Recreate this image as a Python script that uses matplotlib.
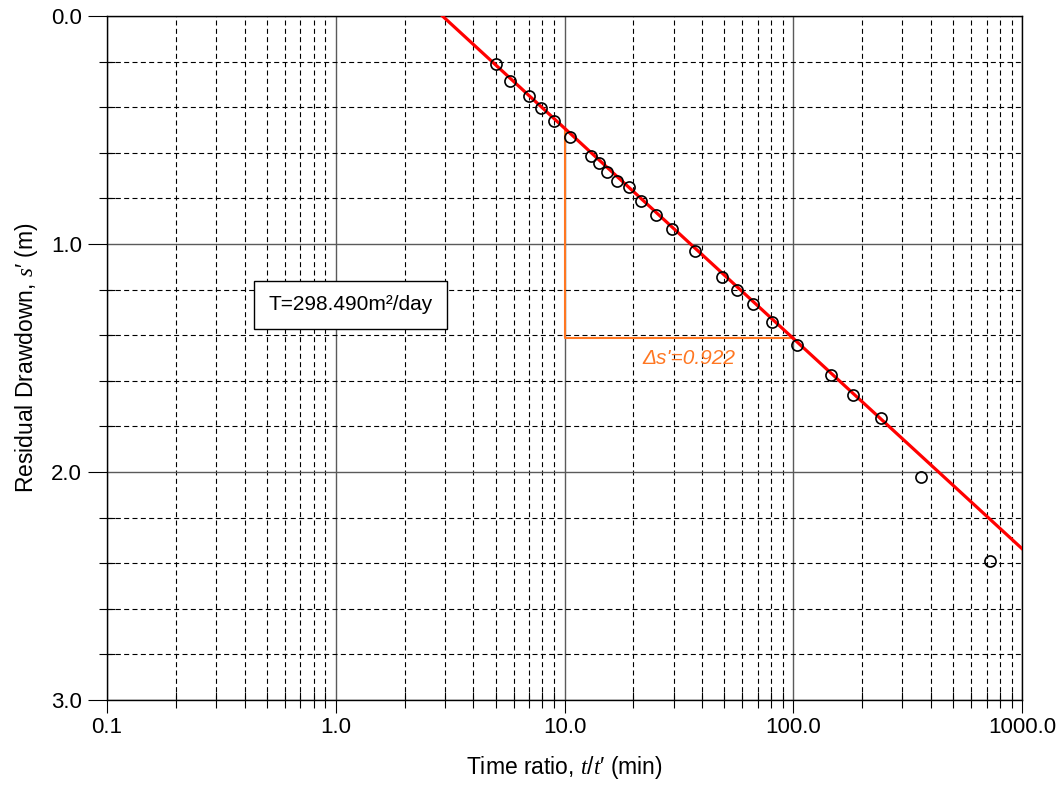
import numpy as np
import matplotlib
matplotlib.use("Agg")
import matplotlib.pyplot as plt
from matplotlib.ticker import FixedLocator, NullFormatter

plt.rcParams['font.family'] = ['Liberation Sans', 'DejaVu Sans']
plt.rcParams['mathtext.fontset'] = 'custom'
plt.rcParams['mathtext.it'] = 'Liberation Serif:italic'
plt.rcParams['mathtext.rm'] = 'Liberation Sans'

# observed recovery data
t_ratio = [5.0, 5.8, 7.0, 7.9, 9.0, 10.6, 13.0, 14.1, 15.3, 16.9, 19.1, 21.5,
           25.0, 29.6, 37.2, 49.0, 56.9, 66.5, 80.7, 103.5, 145.8, 182.0,
           242.7, 363.0, 722.0]
drawdown = [0.21, 0.284, 0.351, 0.402, 0.46, 0.532, 0.614, 0.643, 0.684, 0.725,
            0.751, 0.813, 0.871, 0.933, 1.031, 1.143, 1.203, 1.263, 1.342,
            1.444, 1.573, 1.664, 1.765, 2.023, 2.392]

# straight-line fit  s' = s_at_1 + slope * log10(t/t')
fit_slope = 0.922
fit_s_at_1 = -0.43
fit_x = [0.1, 1000.0]
cycle_x = [10.0, 100.0]

x_major = [0.1, 1.0, 10.0, 100.0, 1000.0]
x_major_labels = ['0.1', '1.0', '10.0', '100.0', '1000.0']
y_major = [0.0, 1.0, 2.0, 3.0]
y_major_labels = ['0.0', '1.0', '2.0', '3.0']
y_minor = [0.2, 0.4, 0.6, 0.8, 1.2, 1.4, 1.6, 1.8, 2.2, 2.4, 2.6, 2.8]

T_text = 'T=298.490m\u00b2/day'
ds_text = "\u0394s'=0.922"


def fit_line(x):
    return fit_s_at_1 + fit_slope * np.log10(np.asarray(x))


fig = plt.figure(figsize=(10.63, 7.89), dpi=100)
ax = fig.add_axes([0.1007, 0.1128, 0.8607, 0.8669])

ax.set_xscale('log')
ax.set_xlim(0.1, 1000)
ax.set_ylim(3.0, 0.0)

# grid
x_minor = [m * 10.0 ** e for e in range(-1, 3) for m in range(2, 10)]
ax.xaxis.set_major_locator(FixedLocator(x_major))
ax.xaxis.set_minor_locator(FixedLocator(x_minor))
ax.xaxis.set_minor_formatter(NullFormatter())
ax.set_xticklabels(x_major_labels)
ax.set_yticks(y_major)
ax.set_yticklabels(y_major_labels)
ax.set_yticks(y_minor, minor=True)

ax.grid(which='major', color='#5a5a5a', linestyle='-', linewidth=1.0)
ax.grid(which='minor', color='black', linestyle=(0, (4.5, 3)), linewidth=0.8)

ax.tick_params(axis='y', which='major', direction='out', length=14, width=0.8, labelsize=16, pad=4)
ax.tick_params(axis='x', which='major', direction='out', length=9, width=0.8, labelsize=16, pad=3)
ax.tick_params(which='minor', direction='inout', length=12, width=0.8)
for s in ax.spines.values():
    s.set_linewidth(1.0)

# fitted line
ax.plot(fit_x, fit_line(fit_x), color='red', linewidth=2.3, zorder=4)

# one log cycle construction
s10, s100 = fit_line(cycle_x)
ax.plot([cycle_x[0], cycle_x[0], cycle_x[1]], [s10, s100, s100],
        color='#ff7722', linewidth=1.5, zorder=3)
ax.text(22.0, 1.5, ds_text, color='#ff7722', fontsize=15, style='italic',
        va='center', ha='left', zorder=5)

# data points
ax.plot(t_ratio, drawdown, linestyle='none', marker='o', markersize=8,
        markerfacecolor='none', markeredgecolor='black', markeredgewidth=1.2, zorder=5)

# transmissivity box
ax.text(0.266, 0.578, T_text, transform=ax.transAxes, fontsize=15,
        ha='center', va='center',
        bbox=dict(boxstyle='square,pad=0.7', facecolor='white', edgecolor='black', linewidth=1.0),
        zorder=6)

ax.set_xlabel("Time ratio, $t/t$\u2032 (min)", fontsize=16.5, labelpad=12)
ax.set_ylabel("Residual Drawdown, $s$\u2032 (m)", fontsize=16.5, labelpad=8)

fig.savefig('out.png', dpi=100)
